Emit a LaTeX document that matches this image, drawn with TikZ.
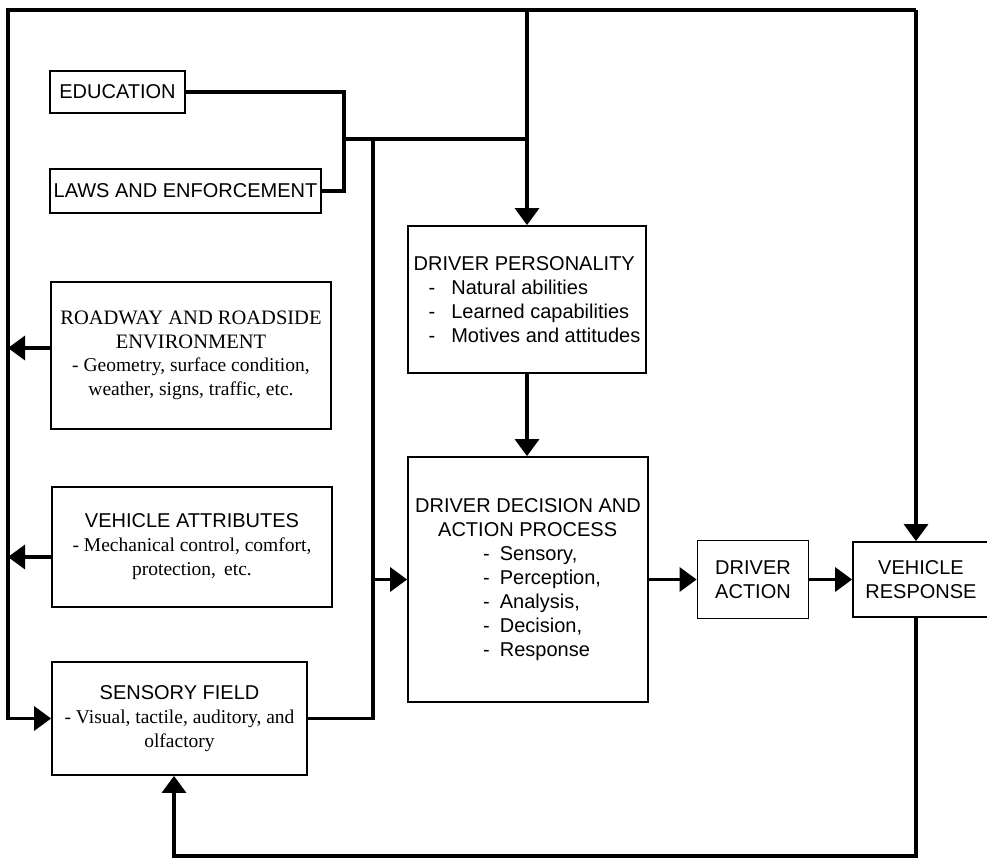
\documentclass[tikz,border=0pt]{standalone}
\usepackage{fontspec}
\setmainfont{Liberation Serif}
\setsansfont{Liberation Sans}
\usetikzlibrary{arrows.meta,positioning}

\tikzset{
  block/.style={draw,line width=1.8pt,inner sep=2pt,align=center,
    font=\sffamily\fontsize{20}{24}\selectfont},
  serif/.style={font=\rmfamily\fontsize{19.5}{23.5}\selectfont},
  link/.style={line width=3.4pt},
  arr/.style={line width=3.4pt,-{Triangle[length=17pt,width=24pt]}},
}

\begin{document}
\begin{tikzpicture}[x=1pt,y=-1pt,node distance=225pt,on grid]
  \useasboundingbox (0,0) rectangle (987,863);

  % left column
  \node[block,minimum width=135pt,minimum height=42pt] (edu) at (117.5,92) {EDUCATION};
  \node[block,minimum width=271pt,minimum height=44pt] (laws) at (185.5,191) {LAWS AND ENFORCEMENT};
  \node[block,serif,minimum width=280pt,minimum height=147pt] (rw) at (191,355.5)
    {\fontsize{20.5}{23.5}\selectfont ROADWAY AND ROADSIDE\\\fontsize{20.5}{23.5}\selectfont ENVIRONMENT\\- Geometry, surface condition,\\weather, signs, traffic, etc.};
  \node[block,minimum width=280pt,minimum height=120pt] (va) at (192,547)
    {VEHICLE ATTRIBUTES\\\rmfamily\fontsize{19.5}{23.5}\selectfont - Mechanical control, comfort,\\\rmfamily\fontsize{19.5}{23.5}\selectfont protection,\, etc.};
  \node[block,minimum width=255pt,minimum height=113pt] (sf) at (179.5,718.5)
    {SENSORY FIELD\\\rmfamily\fontsize{19.5}{23.5}\selectfont - Visual, tactile, auditory, and\\\rmfamily\fontsize{19.5}{23.5}\selectfont olfactory};

  % driver column
  \node[block,align=left,minimum width=238pt,minimum height=147pt] (per) at (527,299.5)
    {DRIVER PERSONALITY\\
     \hspace*{15pt}-\hspace*{16pt}Natural abilities\\
     \hspace*{15pt}-\hspace*{16pt}Learned capabilities\\
     \hspace*{15pt}-\hspace*{16pt}Motives and attitudes};
  \node[block,align=left,minimum width=240pt,minimum height=245pt] (dec) at (528,579.5)
    {DRIVER DECISION AND\\
     \hspace*{23pt}ACTION PROCESS\\
     \hspace*{68pt}-\hspace*{10pt}Sensory,\\
     \hspace*{68pt}-\hspace*{10pt}Perception,\\
     \hspace*{68pt}-\hspace*{10pt}Analysis,\\
     \hspace*{68pt}-\hspace*{10pt}Decision,\\
     \hspace*{68pt}-\hspace*{10pt}Response};
  \node[block,minimum width=111pt,minimum height=78pt] (act) [right=of dec] {DRIVER\\ACTION};
  \node[block,minimum width=136pt,minimum height=75pt] (vr) [right=168pt of act] {VEHICLE\\RESPONSE};

  \coordinate (tl) at (8,10);
  \coordinate (tr) at (916,10);
  \coordinate (jn) at (344,139);
  \coordinate (sp) at (373,139);
  \coordinate (bl) at (174,856);
  \coordinate (rwl) at ([yshift=7.5pt]rw.west);
  \coordinate (val) at ([yshift=-10pt]va.west);

  % outer feedback lines
  \draw[arr] (tr) -- (tl) |- (sf.west);
  \draw[arr] (tr) -- (tr |- vr.north);
  \draw[arr] (tl -| per.north) -- (per.north);
  \draw[arr] (vr.south -| tr) |- (bl) -- (sf.south -| bl);

  % environment and vehicle
  \draw[arr] (rwl) -- (rwl -| tl);
  \draw[arr] (val) -- (val -| tl);

  % education and laws
  \draw[link] (edu.east) -| (jn) |- (laws.east);
  \draw[link] (jn) -- (jn -| per.north);
  \draw[link] (sp) |- (sf.east);
  \draw[arr] (sp |- dec.west) -- (dec.west);

  % driver chain
  \draw[arr] (per.south) -- (per.south |- dec.north);
  \draw[arr] (dec.east |- act.west) -- (act.west);
  \draw[arr] (act.east) -- (act.east -| vr.west);
\end{tikzpicture}
\end{document}
